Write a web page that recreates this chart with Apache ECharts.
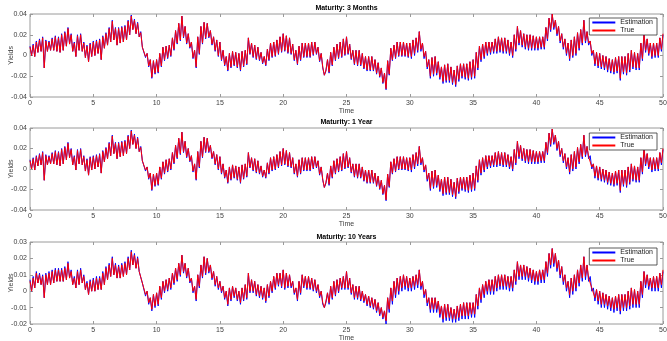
<!DOCTYPE html>
<html><head><meta charset="utf-8">
<script src="https://cdn.jsdelivr.net/npm/echarts/dist/echarts.min.js"></script>
<style>html,body{margin:0;padding:0;background:#fff}#c{width:667px;height:341px}</style>
</head><body><div id="c"></div>
<script>
const titles = ['Maturity: 3 Months', 'Maturity: 1 Year', 'Maturity: 10 Years'];
const seriesNames = ['Estimation', 'True'];
const timeStart = 0, timeStep = 0.125;
const xTicks = [0, 5, 10, 15, 20, 25, 30, 35, 40, 45, 50];
const yTicksShort = [-0.04, -0.02, 0, 0.02, 0.04];
const yTicksLong = [-0.02, -0.01, 0, 0.01, 0.02, 0.03];

const true3M = [
.008,0,.01,-.001,.013,.003,.015,.004, .017,-.012,.014,.004,.013,.005,.016,.005,
.018,.004,.017,.003,.02,.005,.022,.009, .026,.011,.02,.004,.012,-.001,.019,.005,
.02,.004,.012,-.002,.009,-.006,.011,-.001, .013,0,.014,.002,.015,-.004,.018,.007,
.021,.01,.026,.013,.033,.015,.026,.01, .026,.012,.027,.013,.028,.015,.033,.02,
.038,.025,.034,.021,.031,.018,.022,.008, .009,-.001,.002,-.01,-.004,-.021,-.005,-.017,
-.004,-.016,.002,-.01,.008,-.004,.009,-.002, .01,0,.017,.006,.024,.012,.031,.015,
.038,.018,.028,.012,.021,.008,.013,-.002, .005,-.011,.018,.002,.028,.012,.032,.017,
.031,.018,.024,.011,.018,.005,.015,0, .013,-.004,.005,-.009,-.001,-.014,.002,-.011,
.004,-.009,.003,-.011,.002,-.014,.004,-.01, .005,-.008,.017,.002,.012,-.001,.01,-.003,
.008,-.004,.003,-.007,-.001,-.009,.006,-.004, .012,-.001,.013,0,.015,.002,.018,.004,
.021,.005,.019,.003,.017,.002,.011,-.004, .005,-.008,.009,-.004,.012,-.001,.012,-.001,
.012,-.001,.013,.001,.013,.002,.008,-.005, .002,-.011,-.019,-.014,-.004,-.016,.003,-.009,
.008,-.004,.011,-.002,.013,-.001,.016,.001, .018,.002,.011,-.003,.005,-.008,.005,-.009,
.005,-.009,.002,-.012,-.001,-.014,-.001,-.014, -.001,-.014,-.004,-.017,-.007,-.02,-.012,-.026,
-.017,-.032,-.005,-.018,.007,-.004,.01,-.002, .013,0,.013,0,.013,0,.012,-.001,
.012,-.001,.015,.002,.017,.005,.023,.006, .012,-.001,.004,-.011,-.004,-.02,-.002,-.018,
-.001,-.017,-.006,-.021,-.011,-.025,-.009,-.024, -.008,-.024,-.011,-.026,-.014,-.028,-.01,-.023,
-.008,-.02,-.008,-.021,-.008,-.022,-.006,-.021, -.004,-.02,.003,-.012,.009,-.004,.011,-.001,
.013,.002,.013,.003,.013,.004,.016,.004, .018,.005,.017,.004,.017,.004,.015,.002,
.013,0,.02,.006,.028,.012,.024,.01, .021,.008,.02,.007,.02,.007,.019,.007,
.018,.007,.018,.008,.018,.008,.027,.016, .036,.025,.04,.027,.034,.021,.028,.014,
.021,.008,.016,.002,.012,-.003,.015,0, .018,.002,.022,.007,.025,.012,.034,.014,
.023,.012,.014,.002,.005,-.008,.003,-.01, .002,-.011,0,-.012,-.001,-.014,-.003,-.015,
-.004,-.016,-.002,-.015,-.001,-.022,-.001,-.016, -.001,-.017,.002,-.014,.005,-.011,.003,-.012,
.002,-.012,.012,-.003,.021,.005,.016,.002, .012,-.001,.012,0,.012,0,.017,.006,
.021];
const est3M = [
.009,0,.011,-.001,.014,.003,.016,.004, .018,-.012,.015,.004,.014,.005,.017,.005,
.019,.004,.018,.003,.021,.005,.023,.009, .027,.011,.021,.004,.013,-.001,.02,.005,
.021,.004,.013,-.002,.01,-.006,.012,-.001, .014,0,.015,.002,.016,-.004,.019,.007,
.022,.01,.027,.013,.034,.015,.027,.01, .027,.012,.028,.013,.029,.015,.034,.02,
.039,.025,.035,.021,.032,.018,.023,.008, .009,-.002,.002,-.011,-.004,-.022,-.005,-.018,
-.004,-.017,.002,-.011,.008,-.005,.009,-.003, .01,-.001,.017,.005,.024,.011,.031,.014,
.038,.017,.028,.011,.021,.007,.013,-.003, .005,-.012,.018,.001,.028,.011,.032,.016,
.031,.017,.024,.01,.018,.004,.015,-.001, .013,-.005,.005,-.01,-.001,-.015,.002,-.012,
.004,-.01,.003,-.012,.002,-.015,.004,-.011, .005,-.009,.017,.001,.012,-.002,.01,-.004,
.008,-.005,.003,-.008,-.001,-.01,.006,-.005, .012,-.002,.013,-.001,.015,.001,.018,.003,
.021,.004,.019,.002,.017,.001,.011,-.005, .005,-.009,.009,-.005,.012,-.002,.012,-.002,
.012,-.002,.013,0,.013,.001,.008,-.006, .002,-.012,-.019,-.015,-.004,-.017,.003,-.01,
.008,-.005,.011,-.003,.013,-.002,.016,0, .018,.001,.011,-.004,.005,-.009,.005,-.01,
.005,-.01,.002,-.013,-.001,-.015,-.001,-.015, -.001,-.015,-.004,-.018,-.007,-.021,-.012,-.027,
-.017,-.033,-.005,-.019,.007,-.005,.01,-.003, .013,-.001,.013,-.001,.013,-.001,.012,-.002,
.012,-.003,.015,0,.017,.003,.023,.004, .012,-.003,.004,-.013,-.004,-.022,-.002,-.02,
-.001,-.019,-.006,-.023,-.011,-.027,-.009,-.026, -.008,-.026,-.011,-.028,-.014,-.03,-.01,-.025,
-.008,-.022,-.008,-.023,-.008,-.024,-.006,-.023, -.004,-.022,.003,-.014,.009,-.006,.011,-.003,
.013,0,.013,.001,.013,.002,.016,.002, .018,.003,.017,.002,.017,.002,.015,0,
.013,-.002,.02,.004,.028,.01,.024,.008, .021,.006,.02,.005,.02,.005,.019,.005,
.018,.005,.018,.006,.018,.006,.027,.014, .036,.023,.04,.025,.034,.019,.028,.012,
.021,.006,.016,0,.012,-.005,.015,-.002, .018,0,.022,.005,.025,.01,.034,.012,
.023,.01,.014,0,.005,-.01,.003,-.012, .002,-.013,0,-.014,-.001,-.016,-.003,-.017,
-.004,-.018,-.002,-.017,-.001,-.024,-.001,-.018, -.001,-.019,.002,-.016,.005,-.013,.003,-.014,
.002,-.014,.012,-.005,.021,.003,.016,0, .012,-.003,.012,-.002,.012,-.002,.017,.004,
.02];

const true1Y = [
.008,0,.01,-.001,.012,.003,.014,.004, .016,-.011,.013,.004,.012,.005,.015,.005,
.017,.004,.016,.003,.019,.005,.021,.009, .025,.011,.019,.004,.012,-.001,.018,.005,
.019,.004,.012,-.002,.009,-.006,.011,-.001, .012,0,.013,.002,.014,-.004,.017,.007,
.02,.01,.025,.013,.032,.015,.025,.01, .025,.012,.026,.013,.027,.015,.032,.02,
.037,.024,.033,.02,.03,.017,.021,.008, .009,-.001,.002,-.009,-.004,-.02,-.005,-.016,
-.004,-.015,.002,-.009,.007,-.004,.009,-.002, .01,0,.016,.006,.023,.011,.03,.015,
.036,.017,.027,.012,.02,.008,.013,-.002, .005,-.01,.017,.002,.027,.012,.031,.017,
.03,.017,.023,.011,.017,.005,.014,0, .012,-.004,.005,-.008,-.001,-.013,.002,-.01,
.004,-.008,.003,-.01,.002,-.013,.004,-.009, .005,-.007,.016,.002,.011,-.001,.01,-.003,
.008,-.004,.003,-.007,-.001,-.008,.006,-.004, .011,-.001,.012,0,.014,.002,.017,.004,
.02,.005,.018,.003,.016,.002,.011,-.004, .005,-.007,.009,-.004,.011,-.001,.011,-.001,
.011,-.001,.012,.001,.012,.002,.008,-.005, .002,-.01,-.018,-.013,-.004,-.015,.003,-.008,
.008,-.004,.01,-.002,.012,-.001,.015,.001, .017,.002,.011,-.003,.005,-.007,.005,-.008,
.005,-.008,.002,-.011,-.001,-.013,-.001,-.013, -.001,-.013,-.004,-.016,-.007,-.019,-.011,-.024,
-.016,-.03,-.005,-.017,.007,-.004,.01,-.002, .012,0,.012,0,.012,0,.011,-.001,
.011,-.001,.014,.002,.016,.005,.022,.006, .011,-.001,.004,-.01,-.004,-.019,-.002,-.017,
-.001,-.016,-.006,-.02,-.01,-.024,-.008,-.023, -.008,-.023,-.01,-.025,-.013,-.027,-.009,-.022,
-.008,-.019,-.008,-.02,-.008,-.021,-.006,-.02, -.004,-.019,.003,-.011,.009,-.004,.011,-.001,
.013,.002,.013,.003,.013,.004,.016,.004, .017,.005,.016,.004,.016,.004,.014,.002,
.012,0,.019,.006,.027,.012,.023,.01, .02,.008,.019,.007,.019,.007,.018,.007,
.017,.007,.017,.008,.017,.008,.026,.016, .035,.024,.039,.026,.033,.02,.027,.014,
.02,.008,.015,.002,.011,-.003,.014,0, .017,.002,.021,.007,.024,.012,.033,.014,
.022,.012,.013,.002,.005,-.007,.003,-.009, .002,-.01,0,-.011,-.001,-.013,-.003,-.014,
-.004,-.015,-.002,-.014,-.001,-.021,-.001,-.015, -.001,-.016,.002,-.013,.005,-.01,.003,-.011,
.002,-.011,.011,-.003,.02,.005,.015,.002, .011,-.001,.011,0,.011,0,.016,.006,
.02];
const est1Y = [
.009,0,.011,-.001,.013,.003,.015,.004, .017,-.011,.014,.004,.013,.005,.016,.005,
.018,.004,.017,.003,.02,.005,.022,.009, .026,.011,.02,.004,.013,-.001,.019,.005,
.02,.004,.013,-.002,.01,-.006,.012,-.001, .013,0,.014,.002,.015,-.004,.018,.007,
.021,.01,.026,.013,.033,.015,.026,.01, .026,.012,.027,.013,.028,.015,.033,.02,
.038,.024,.034,.02,.031,.017,.022,.008, .009,-.002,.002,-.01,-.004,-.021,-.005,-.017,
-.004,-.016,.002,-.01,.007,-.005,.009,-.003, .01,-.001,.016,.005,.023,.01,.03,.014,
.036,.016,.027,.011,.02,.007,.013,-.003, .005,-.011,.017,.001,.027,.011,.031,.016,
.03,.016,.023,.01,.017,.004,.014,-.001, .012,-.005,.005,-.009,-.001,-.014,.002,-.011,
.004,-.009,.003,-.011,.002,-.014,.004,-.01, .005,-.008,.016,.001,.011,-.002,.01,-.004,
.008,-.005,.003,-.008,-.001,-.009,.006,-.005, .011,-.002,.012,-.001,.014,.001,.017,.003,
.02,.004,.018,.002,.016,.001,.011,-.005, .005,-.008,.009,-.005,.011,-.002,.011,-.002,
.011,-.002,.012,0,.012,.001,.008,-.006, .002,-.011,-.018,-.014,-.004,-.016,.003,-.009,
.008,-.005,.01,-.003,.012,-.002,.015,0, .017,.001,.011,-.004,.005,-.008,.005,-.009,
.005,-.009,.002,-.012,-.001,-.014,-.001,-.014, -.001,-.014,-.004,-.017,-.007,-.02,-.011,-.025,
-.016,-.031,-.005,-.018,.007,-.005,.01,-.003, .012,-.001,.012,-.001,.012,-.001,.011,-.002,
.011,-.003,.014,0,.016,.003,.022,.004, .011,-.003,.004,-.012,-.004,-.021,-.002,-.019,
-.001,-.018,-.006,-.022,-.01,-.026,-.008,-.025, -.008,-.025,-.01,-.027,-.013,-.029,-.009,-.024,
-.008,-.021,-.008,-.022,-.008,-.023,-.006,-.022, -.004,-.021,.003,-.013,.009,-.006,.011,-.003,
.013,0,.013,.001,.013,.002,.016,.002, .017,.003,.016,.002,.016,.002,.014,0,
.012,-.002,.019,.004,.027,.01,.023,.008, .02,.006,.019,.005,.019,.005,.018,.005,
.017,.005,.017,.006,.017,.006,.026,.014, .035,.022,.039,.024,.033,.018,.027,.012,
.02,.006,.015,0,.011,-.005,.014,-.002, .017,0,.021,.005,.024,.01,.033,.012,
.022,.01,.013,0,.005,-.009,.003,-.011, .002,-.012,0,-.013,-.001,-.015,-.003,-.016,
-.004,-.017,-.002,-.016,-.001,-.023,-.001,-.017, -.001,-.018,.002,-.015,.005,-.012,.003,-.013,
.002,-.013,.011,-.005,.02,.003,.015,0, .011,-.003,.011,-.002,.011,-.002,.016,.004,
.019];

const true10Y = [
.006,0,.008,.002,.011,.005,.01,.004, .009,-.004,.01,.004,.011,.004,.012,.005,
.013,.006,.013,.006,.013,.006,.014,.007, .017,.008,.012,.004,.008,.002,.012,.004,
.013,.005,.009,.001,.005,-.002,.006,0, .007,0,.008,.001,.008,.001,.011,.004,
.014,.007,.016,.009,.02,.01,.016,.008, .015,.008,.016,.009,.017,.01,.02,.013,
.024,.016,.022,.014,.02,.012,.012,.005, .004,-.002,0,-.007,-.004,-.011,-.002,-.009,
-.001,-.008,.003,-.004,.006,0,.007,.001, .008,.002,.011,.005,.014,.007,.017,.01,
.022,.012,.017,.009,.014,.006,.008,0, .003,-.005,.01,.003,.016,.009,.021,.011,
.02,.012,.016,.008,.012,.004,.009,.002, .006,0,.003,-.004,0,-.008,.002,-.005,
.003,-.003,.002,-.005,0,-.007,.002,-.005, .004,-.004,.011,0,.007,0,.006,-.002,
.004,-.003,.003,-.004,.002,-.006,.004,-.003, .006,0,.009,.002,.011,.004,.011,.003,
.013,.002,.011,.003,.01,.003,.006,-.001, .002,-.005,.006,-.001,.01,.003,.009,.002,
.009,.002,.008,.001,.007,0,.004,-.003, 0,-.007,-.01,-.006,-.001,-.007,.003,-.004,
.006,-.002,.007,0,.008,.002,.009,.002, .012,.002,.008,-.001,.004,-.004,.003,-.004,
.003,-.005,0,-.006,-.002,-.008,-.003,-.009, -.004,-.01,-.005,-.012,-.007,-.014,-.01,-.016,
-.012,-.018,-.004,-.011,.002,-.006,.006,-.002, .008,0,.009,.002,.01,.003,.009,.002,
.008,.002,.009,.003,.01,.004,.013,.003, .006,-.002,.001,-.007,-.004,-.011,-.004,-.011,
-.004,-.011,-.006,-.014,-.009,-.017,-.008,-.016, -.008,-.016,-.01,-.017,-.011,-.017,-.009,-.016,
-.008,-.015,-.007,-.015,-.007,-.015,-.007,-.014, -.007,-.014,-.002,-.009,.002,-.005,.004,-.002,
.006,0,.007,0,.007,0,.009,.002, .01,.003,.01,.003,.01,.003,.009,.002,
.009,.002,.013,.006,.018,.009,.016,.009, .016,.009,.015,.008,.014,.007,.013,.006,
.012,.006,.013,.007,.013,.007,.018,.011, .023,.016,.026,.017,.023,.014,.019,.01,
.015,.006,.01,.002,.006,-.002,.008,0, .01,.002,.013,.005,.016,.008,.021,.009,
.016,.008,.009,.002,.002,-.004,.001,-.006, 0,-.008,-.001,-.008,-.002,-.009,-.003,-.01,
-.004,-.011,-.003,-.01,-.002,-.012,-.002,-.01, -.002,-.01,0,-.009,.002,-.008,.001,-.008,
0,-.008,.006,-.002,.012,.004,.01,.003, .008,.002,.009,.002,.009,.002,.011,.004,
.013];
const est10Y = [
.007,0,.009,.002,.012,.005,.011,.004, .01,-.004,.011,.004,.012,.004,.013,.005,
.014,.006,.014,.006,.014,.006,.015,.007, .018,.008,.013,.004,.009,.002,.013,.004,
.014,.005,.01,.001,.006,-.002,.007,0, .008,0,.009,.001,.009,.001,.012,.004,
.015,.007,.017,.009,.021,.01,.017,.008, .016,.008,.017,.009,.018,.01,.021,.013,
.025,.016,.023,.014,.021,.012,.013,.005, .004,-.003,0,-.008,-.004,-.012,-.002,-.01,
-.001,-.009,.003,-.005,.006,-.001,.007,0, .008,.001,.011,.004,.014,.006,.017,.009,
.022,.011,.017,.008,.014,.005,.008,-.001, .003,-.006,.01,.002,.016,.008,.021,.01,
.02,.011,.016,.007,.012,.003,.009,.001, .006,-.001,.003,-.005,0,-.009,.002,-.006,
.003,-.004,.002,-.006,0,-.008,.002,-.006, .004,-.005,.011,-.001,.007,-.001,.006,-.003,
.004,-.004,.003,-.005,.002,-.007,.004,-.004, .006,-.001,.009,.001,.011,.003,.011,.002,
.013,.001,.011,.002,.01,.002,.006,-.002, .002,-.006,.006,-.002,.01,.002,.009,.001,
.009,.001,.008,0,.007,-.001,.004,-.004, 0,-.008,-.01,-.007,-.001,-.008,.003,-.005,
.006,-.003,.007,-.001,.008,.001,.009,.001, .012,.001,.008,-.002,.004,-.005,.003,-.005,
.003,-.006,0,-.007,-.002,-.009,-.003,-.01, -.004,-.011,-.005,-.013,-.007,-.015,-.01,-.017,
-.012,-.02,-.004,-.013,.002,-.008,.006,-.004, .008,-.002,.009,0,.01,.001,.009,0,
.008,0,.009,.001,.01,.002,.013,.001, .006,-.004,.001,-.009,-.004,-.013,-.004,-.013,
-.004,-.013,-.006,-.016,-.009,-.019,-.008,-.018, -.008,-.018,-.01,-.019,-.011,-.019,-.009,-.018,
-.008,-.017,-.007,-.017,-.007,-.017,-.007,-.016, -.007,-.016,-.002,-.011,.002,-.007,.004,-.004,
.006,-.002,.007,-.002,.007,-.002,.009,0, .01,.001,.01,.001,.01,.001,.009,0,
.009,0,.013,.004,.018,.007,.016,.007, .016,.007,.015,.006,.014,.005,.013,.004,
.012,.004,.013,.005,.013,.005,.018,.009, .023,.014,.026,.015,.023,.012,.019,.008,
.015,.004,.01,0,.006,-.004,.008,-.002, .01,0,.013,.003,.016,.006,.021,.007,
.016,.006,.009,0,.002,-.006,.001,-.008, 0,-.01,-.001,-.01,-.002,-.011,-.003,-.012,
-.004,-.013,-.003,-.012,-.002,-.014,-.002,-.012, -.002,-.012,0,-.011,.002,-.01,.001,-.01,
0,-.01,.006,-.004,.012,.002,.01,.001, .008,0,.009,0,.009,0,.011,.002,
.012];

const panels = [
  {title: titles[0], est: est3M, tru: true3M, yTicks: yTicksShort, top: 14, height: 83, legendTop: 18, titleTop: 5},
  {title: titles[1], est: est1Y, tru: true1Y, yTicks: yTicksShort, top: 128, height: 82, legendTop: 133, titleTop: 119},
  {title: titles[2], est: est10Y, tru: true10Y, yTicks: yTicksLong, top: 242, height: 82, legendTop: 248, titleTop: 234}
];

function toPoints(vals) { return vals.map((v, i) => [timeStart + i * timeStep, v]); }

const FONT = 'Liberation Sans, Arial, sans-serif';
const axisCol = '#9a9a9a';
const labelCol = '#404040';

const option = {
  animation: false,
  backgroundColor: '#fff',
  title: panels.map(p => ({
    text: p.title, left: 346.5, textAlign: 'center', top: p.titleTop, padding: 0,
    textStyle: {fontSize: 7, fontWeight: 'bold', color: '#000', fontFamily: FONT}
  })),
  legend: panels.map(p => ({
    orient: 'vertical', right: 10, top: p.legendTop, data: seriesNames,
    icon: 'rect', itemWidth: 23, itemHeight: 2, itemGap: 1, padding: [1, 4, 1, 3],
    borderColor: '#333', borderWidth: 0.8, backgroundColor: '#fff',
    textStyle: {fontSize: 7, color: '#222', fontFamily: FONT}
  })),
  grid: panels.map(p => ({
    left: 30, right: 4, top: p.top, height: p.height, show: true,
    containLabel: false, outerBoundsMode: 'none',
    borderColor: axisCol, borderWidth: 1, backgroundColor: '#fff'
  })),
  xAxis: [],
  yAxis: [],
  series: []
};

panels.forEach((p, i) => {
  const xMin = xTicks[0], xMax = xTicks[xTicks.length - 1], xInt = xTicks[1] - xTicks[0];
  const yMin = p.yTicks[0], yMax = p.yTicks[p.yTicks.length - 1], yInt = p.yTicks[1] - p.yTicks[0];
  const tick = {inside: true, length: 3, lineStyle: {color: axisCol}};
  option.xAxis.push({
    type: 'value', gridIndex: i, min: xMin, max: xMax, interval: xInt, position: 'bottom',
    axisLine: {show: false, onZero: false}, splitLine: {show: false}, axisTick: tick,
    axisLabel: {fontSize: 7, color: labelCol, margin: 3, fontFamily: FONT},
    name: 'Time', nameLocation: 'middle', nameGap: 10,
    nameTextStyle: {fontSize: 7, color: labelCol, fontFamily: FONT}
  });
  option.xAxis.push({
    type: 'value', gridIndex: i, min: xMin, max: xMax, interval: xInt, position: 'top',
    axisLine: {show: false, onZero: false}, splitLine: {show: false}, axisLabel: {show: false},
    axisTick: tick
  });
  option.yAxis.push({
    type: 'value', gridIndex: i, min: yMin, max: yMax, interval: yInt, position: 'left',
    axisLine: {show: false, onZero: false}, splitLine: {show: false}, axisTick: tick,
    axisLabel: {fontSize: 7, color: labelCol, margin: 3, fontFamily: FONT},
    name: 'Yields', nameLocation: 'middle', nameGap: 15, nameMoveOverlap: false,
    nameTextStyle: {fontSize: 7, color: labelCol, fontFamily: FONT}
  });
  option.yAxis.push({
    type: 'value', gridIndex: i, min: yMin, max: yMax, interval: yInt, position: 'right',
    axisLine: {show: false, onZero: false}, splitLine: {show: false}, axisLabel: {show: false},
    axisTick: tick
  });
  option.series.push({
    name: seriesNames[0], type: 'line', xAxisIndex: 2 * i, yAxisIndex: 2 * i,
    data: toPoints(p.est), showSymbol: false, symbol: 'none',
    lineStyle: {color: '#0000ff', width: 1}, itemStyle: {color: '#0000ff'}, z: 2
  });
  option.series.push({
    name: seriesNames[1], type: 'line', xAxisIndex: 2 * i, yAxisIndex: 2 * i,
    data: toPoints(p.tru), showSymbol: false, symbol: 'none',
    lineStyle: {color: '#ff0000', width: 1}, itemStyle: {color: '#ff0000'}, z: 3
  });
});

const chart = echarts.init(document.getElementById('c'), null, {renderer: 'canvas'});
chart.setOption(option);
</script>
</body></html>
